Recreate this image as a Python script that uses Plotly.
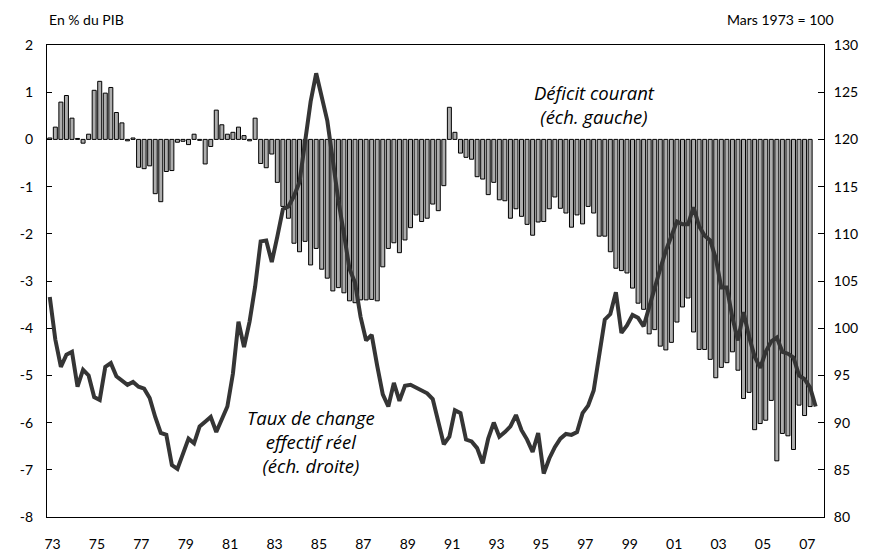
import plotly.graph_objects as go

# Quarterly data, 1973Q1 onwards
start_year = 1973
deficit_courant = [
    0.03, 0.26, 0.79, 0.93, 0.45, 0.02, -0.08, 0.11, 1.04, 1.23, 0.98, 1.10,
    0.57, 0.35, -0.03, 0.03, -0.59, -0.62, -0.56, -1.15, -1.32, -0.68, -0.66, -0.06,
    -0.04, -0.11, 0.11, -0.02, -0.52, -0.15, 0.62, 0.31, 0.11, 0.15, 0.26, 0.08,
    -0.03, 0.45, -0.51, -0.60, -0.31, -0.91, -1.42, -1.67, -2.20, -2.38, -2.16, -2.66,
    -2.31, -2.75, -2.94, -3.21, -3.14, -3.25, -3.42, -3.46, -3.40, -3.40, -3.39, -3.42,
    -2.70, -2.31, -2.19, -2.40, -2.13, -1.87, -1.60, -1.74, -1.67, -1.37, -1.51, -0.98,
    0.68, 0.15, -0.29, -0.38, -0.42, -0.79, -0.84, -1.17, -0.91, -1.28, -1.30, -1.67,
    -1.47, -1.63, -1.80, -2.03, -1.75, -1.74, -1.47, -1.22, -1.46, -1.56, -1.86, -1.60,
    -1.79, -1.42, -1.56, -2.05, -2.05, -2.38, -2.73, -2.78, -2.83, -3.15, -3.47, -3.60,
    -4.12, -4.03, -4.38, -4.46, -4.30, -3.87, -3.55, -3.36, -4.08, -4.45, -4.45, -4.66,
    -5.05, -4.83, -4.73, -4.50, -4.89, -5.49, -5.36, -6.15, -6.02, -5.95, -5.53, -6.81,
    -6.23, -6.28, -6.57, -5.63, -5.85, -5.66,
]
taux_change_reel = [
    103.3, 98.8, 95.9, 97.2, 97.5, 93.8, 95.6, 95.0, 92.7, 92.4, 95.9, 96.3,
    94.9, 94.5, 94.0, 94.3, 93.8, 93.6, 92.6, 90.6, 88.9, 88.7, 85.5, 85.1,
    86.7, 88.3, 87.8, 89.6, 90.1, 90.6, 89.0, 90.3, 91.7, 95.2, 100.7, 98.0,
    100.7, 104.4, 109.2, 109.3, 107.0, 109.7, 112.6, 112.9, 114.0, 115.5, 119.5, 124.0,
    127.0, 124.5, 122.0, 117.8, 113.5, 110.0, 106.3, 104.8, 101.2, 98.7, 99.3, 96.0,
    93.0, 91.7, 94.2, 92.3, 93.9, 94.0, 93.7, 93.4, 93.1, 92.5, 90.3, 87.7,
    88.5, 91.3, 91.0, 88.2, 88.0, 87.3, 85.7, 88.3, 90.0, 88.5, 89.0, 89.6,
    90.8, 89.2, 88.2, 86.9, 88.9, 84.6, 86.2, 87.4, 88.3, 88.8, 88.7, 89.0,
    91.0, 91.8, 93.4, 97.2, 100.9, 101.5, 103.8, 99.5, 100.3, 101.4, 101.1, 100.2,
    102.3, 104.5, 106.3, 108.2, 109.8, 111.3, 111.0, 111.0, 112.8, 110.8, 109.8, 109.3,
    107.4, 104.3, 104.3, 101.1, 98.7, 101.7, 99.1, 97.0, 95.8, 97.5, 98.6, 99.0,
    97.5, 97.3, 96.9, 95.0, 94.6, 93.7, 91.7,
]
year_labels = ["73", "75", "77", "79", "81", "83", "85", "87", "89", "91",
               "93", "95", "97", "99", "01", "03", "05", "07"]
left_ticks = [2, 1, 0, -1, -2, -3, -4, -5, -6, -7, -8]
right_ticks = [130, 125, 120, 115, 110, 105, 100, 95, 90, 85, 80]

x_bar = [start_year + (i + 0.5) / 4 for i in range(len(deficit_courant))]
x_line = [start_year + (i + 0.5) / 4 for i in range(len(taux_change_reel))]
label_pos = [start_year + 2 * k + 0.25 for k in range(len(year_labels))]

FONT = "Lato, 'Open Sans', sans-serif"
LABEL_FONT = "'Open Sans', Lato, sans-serif"

fig = go.Figure()
fig.add_trace(go.Bar(
    x=x_bar, y=deficit_courant, xaxis="x", yaxis="y",
    marker=dict(color="#adadad", line=dict(color="#000000", width=1)),
    showlegend=False, hoverinfo="skip",
))
fig.add_trace(go.Scatter(
    x=x_line, y=taux_change_reel, xaxis="x", yaxis="y2", mode="lines",
    line=dict(color="#353535", width=4), showlegend=False, hoverinfo="skip",
))

fig.update_layout(
    width=873, height=558,
    margin=dict(l=47, r=49, t=45, b=41, autoexpand=False),
    paper_bgcolor="white", plot_bgcolor="white",
    bargap=0.28,
    font=dict(family=FONT, size=14, color="black"),
    xaxis=dict(
        range=[1973, 2008], showgrid=False, zeroline=False,
        showline=True, mirror=True, linecolor="black", linewidth=1,
        tickmode="array", tickvals=label_pos, ticktext=year_labels,
        ticks="", ticklabelstandoff=14, tickfont=dict(size=14), automargin=False,
    ),
    xaxis2=dict(
        range=[1973, 2008], overlaying="x", anchor="free", position=0.8,
        showgrid=False, zeroline=False, showline=True, linecolor="black", linewidth=1.5,
        tickmode="array", tickvals=list(range(1974, 2008)),
        ticks="outside", ticklen=4, tickcolor="black", showticklabels=False,
        automargin=False,
    ),
    yaxis=dict(
        range=[-8, 2], showgrid=False, zeroline=False,
        showline=True, linecolor="black", linewidth=1,
        tickmode="array", tickvals=left_ticks, ticktext=[str(v) for v in left_ticks],
        ticks="inside", ticklen=5, tickcolor="black", ticklabelstandoff=10,
        tickfont=dict(size=14), automargin=False,
    ),
    yaxis2=dict(
        range=[80, 130], overlaying="y", side="right", showgrid=False, zeroline=False,
        showline=True, linecolor="black", linewidth=1,
        tickmode="array", tickvals=right_ticks, ticktext=[str(v) for v in right_ticks],
        ticks="inside", ticklen=6, tickcolor="black", ticklabelstandoff=6,
        tickfont=dict(size=14), automargin=False,
    ),
    annotations=[
        dict(text="En % du PIB", xref="paper", yref="paper", x=0.0, y=1.053,
             xanchor="left", yanchor="middle", showarrow=False, font=dict(size=14)),
        dict(text="Mars 1973 = 100", xref="paper", yref="paper", x=1.0154, y=1.053,
             xanchor="right", yanchor="middle", showarrow=False, font=dict(size=14)),
        dict(text="<i>Déficit courant<br>(éch. gauche)</i>", xref="paper", yref="paper",
             x=0.705, y=0.873, xanchor="center", yanchor="middle", showarrow=False,
             font=dict(size=18.5, family=LABEL_FONT), align="center"),
        dict(text="<i>Taux de change<br>effectif réel<br>(éch. droite)</i>", xref="paper",
             yref="paper", x=0.34, y=0.161, xanchor="center", yanchor="middle",
             showarrow=False, font=dict(size=18.5, family=LABEL_FONT), align="center"),
    ],
)

fig.write_html(
    "out.html",
    config={"displayModeBar": False, "staticPlot": True},
    post_script="document.body.style.margin='0';document.body.style.padding='0';",
)
